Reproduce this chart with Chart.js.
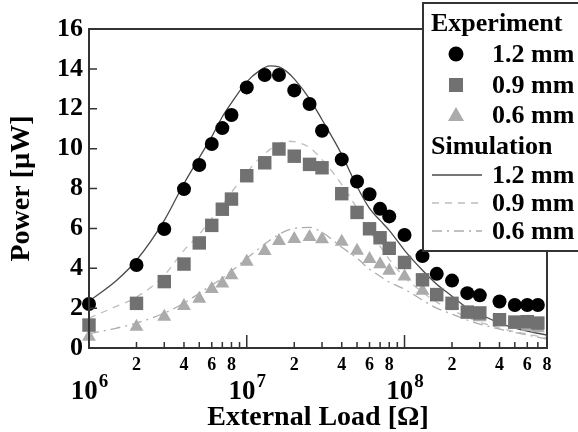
<!DOCTYPE html>
<html>
<head>
<meta charset="utf-8">
<script src="https://cdn.jsdelivr.net/npm/chart.js@4/dist/chart.umd.min.js"></script>
<style>
  body { margin: 0; background: #fff; }
  canvas { display: block; }
</style>
</head>
<body>
<canvas id="chart" width="578" height="432"></canvas>
<script>
// === Messdaten (Experiment) ===
const loadExp = [1e6, 2e6, 3e6, 4e6, 5e6, 6e6, 7e6, 8e6, 1e7, 1.3e7, 1.6e7, 2e7, 2.5e7, 3e7, 4e7,
  5e7, 6e7, 7e7, 8e7, 1e8, 1.3e8, 1.6e8, 2e8, 2.5e8, 3e8, 4e8, 5e8, 6e8, 7e8];
const exp12 = [2.21, 4.16, 5.97, 7.97, 9.18, 10.23, 11.03, 11.69, 13.07, 13.69, 13.69, 12.92, 12.24, 10.9, 9.46,
  8.35, 7.71, 6.98, 6.6, 5.67, 4.61, 3.72, 3.38, 2.75, 2.64, 2.33, 2.16, 2.16, 2.16];
const exp09 = [1.15, 2.24, 3.33, 4.21, 5.27, 6.15, 6.96, 7.47, 8.64, 9.29, 9.98, 9.62, 9.21, 9.04, 7.74,
  6.8, 5.98, 5.53, 5.0, 4.29, 3.42, 2.68, 2.24, 1.8, 1.76, 1.42, 1.3, 1.32, 1.25];
const exp06 = [0.56, 1.07, 1.57, 2.11, 2.47, 2.96, 3.24, 3.65, 4.33, 4.86, 5.37, 5.47, 5.57, 5.45, 5.33,
  4.88, 4.46, 4.2, 3.88, 3.58, 2.87, 2.54, 2.16, 1.74, 1.54, 1.32, 1.15, 1.07, 0.99];

// === Simulation ===
const loadSim = [1e6, 1.5e6, 2e6, 3e6, 4e6, 5e6, 6e6, 7e6, 8e6, 1e7, 1.2e7, 1.4e7, 1.6e7, 1.8e7, 2e7, 2.5e7,
  3e7, 4e7, 5e7, 6e7, 7e7, 8e7, 1e8, 1.3e8, 1.6e8, 2e8, 2.5e8, 3e8, 4e8, 5e8, 6e8, 8e8];
const sim12 = [2.35, 3.4, 4.4, 6.4, 8.25, 9.55, 10.6, 11.6, 12.3, 13.35, 13.9, 14.15, 14.1, 13.85, 13.5, 12.5,
  11.45, 9.7, 8.1, 7.0, 6.4, 5.9, 4.9, 3.9, 3.2, 2.6, 2.0, 1.7, 1.25, 1.0, 0.85, 0.65];
const sim09 = [1.5, 2.1, 2.55, 3.65, 4.9, 5.7, 6.5, 7.15, 7.8, 8.8, 9.5, 9.95, 10.25, 10.37, 10.35, 10.05,
  9.45, 8.2, 7.0, 5.9, 5.1, 4.45, 3.55, 2.8, 2.3, 1.9, 1.55, 1.3, 1.0, 0.82, 0.7, 0.5];
const sim06 = [0.72, 1.0, 1.25, 1.75, 2.25, 2.75, 3.15, 3.5, 3.85, 4.5, 5.0, 5.4, 5.7, 5.9, 6.0, 6.05,
  5.8, 5.05, 4.5, 3.95, 3.6, 3.3, 2.95, 2.4, 2.0, 1.7, 1.4, 1.2, 0.95, 0.78, 0.65, 0.45];

// === Achsen ===
const yTicks = [0, 2, 4, 6, 8, 10, 12, 14, 16];
const decades = [6, 7, 8];
const minorMults = [2, 3, 4, 5, 6, 7, 8, 9];
const labeledMults = [2, 4, 6, 8];
const xMin = 1e6, xMax = 8e8;

const serif = '"Liberation Serif", "Times New Roman", serif';
const axisColor = '#333';

const toXY = (xs, ys) => xs.map((x, i) => ({ x: x, y: ys[i] }));

// Rahmen, Ticks nach innen, x-Beschriftung mit Hochzahl, Legende
const framePlugin = {
  id: 'frame',
  afterDraw(chart) {
    const ctx = chart.ctx;
    const a = chart.chartArea;
    const xs = chart.scales.x, ys = chart.scales.y;
    ctx.save();
    ctx.strokeStyle = axisColor;
    ctx.lineWidth = 2;
    ctx.strokeRect(a.left, a.top, a.right - a.left, a.bottom - a.top);

    // y-Ticks
    ctx.lineWidth = 1.5;
    ctx.beginPath();
    yTicks.forEach(v => {
      const py = ys.getPixelForValue(v);
      ctx.moveTo(a.left, py); ctx.lineTo(a.left + 8, py);
    });
    ctx.stroke();

    // x-Ticks + Labels
    ctx.fillStyle = '#000';
    ctx.textAlign = 'center';
    ctx.textBaseline = 'alphabetic';
    ctx.beginPath();
    decades.forEach(d => {
      const base = Math.pow(10, d);
      const px = xs.getPixelForValue(base);
      ctx.moveTo(px, a.bottom); ctx.lineTo(px, a.bottom - 13);
      minorMults.forEach(m => {
        const v = m * base;
        if (v > xMax * 1.0001) return;
        const mx = xs.getPixelForValue(v);
        ctx.moveTo(mx, a.bottom); ctx.lineTo(mx, a.bottom - 6);
      });
    });
    ctx.stroke();

    ctx.font = 'bold 18px ' + serif;
    decades.forEach(d => {
      labeledMults.forEach(m => {
        const v = m * Math.pow(10, d);
        if (v > xMax * 1.0001) return;
        ctx.fillText(String(m), xs.getPixelForValue(v), 370);
      });
    });

    decades.forEach(d => {
      const px = xs.getPixelForValue(Math.pow(10, d));
      ctx.font = 'bold 27px ' + serif;
      const w1 = ctx.measureText('10').width;
      ctx.font = 'bold 19px ' + serif;
      const w2 = ctx.measureText(String(d)).width;
      const x0 = px - (w1 + w2) / 2;
      ctx.textAlign = 'left';
      ctx.font = 'bold 27px ' + serif;
      ctx.fillText('10', x0, 399);
      ctx.font = 'bold 19px ' + serif;
      ctx.fillText(String(d), x0 + w1 + 1, 387);
    });

    // Legende
    const lx = 423, ly = 3;
    ctx.fillStyle = '#fff';
    ctx.fillRect(lx, ly, 200, 248);
    ctx.strokeStyle = axisColor;
    ctx.lineWidth = 2;
    ctx.strokeRect(lx, ly, 200, 248);

    const rows = [23, 54, 85, 115, 146, 175, 203, 231];
    ctx.fillStyle = '#000';
    ctx.textAlign = 'left';
    ctx.textBaseline = 'middle';
    ctx.font = 'bold 26px ' + serif;
    ctx.fillText('Experiment', 431, rows[0] + 1);
    ctx.fillText('Simulation', 431, rows[4] + 1);

    const ds = chart.data.datasets;
    // Marker
    ctx.fillStyle = ds[3].backgroundColor;
    ctx.beginPath(); ctx.arc(456, rows[1], 7.5, 0, Math.PI * 2); ctx.fill();
    ctx.fillStyle = ds[4].backgroundColor;
    ctx.fillRect(449, rows[2] - 7, 14, 14);
    ctx.fillStyle = ds[5].backgroundColor;
    ctx.beginPath();
    ctx.moveTo(456, rows[3] - 8); ctx.lineTo(464, rows[3] + 6); ctx.lineTo(448, rows[3] + 6);
    ctx.closePath(); ctx.fill();

    // Linienmuster
    [0, 1, 2].forEach(i => {
      const d = ds[i];
      ctx.strokeStyle = d.borderColor;
      ctx.lineWidth = d.borderWidth;
      ctx.setLineDash(d.borderDash || []);
      ctx.beginPath();
      ctx.moveTo(432, rows[5 + i]); ctx.lineTo(482, rows[5 + i]);
      ctx.stroke();
    });
    ctx.setLineDash([]);

    ctx.fillStyle = '#000';
    ctx.font = 'bold 26px ' + serif;
    ['1.2 mm', '0.9 mm', '0.6 mm'].forEach((t, i) => {
      ctx.fillText(t, 492, rows[1 + i] + 1);
      ctx.fillText(t, 492, rows[5 + i] + 1);
    });
    ctx.restore();
  }
};

new Chart(document.getElementById('chart'), {
  type: 'scatter',
  data: {
    datasets: [
      { label: 'Sim 1.2 mm', type: 'line', data: toXY(loadSim, sim12), borderColor: '#4a4a4a',
        borderWidth: 1.3, pointRadius: 0, cubicInterpolationMode: 'monotone', fill: false, order: 3 },
      { label: 'Sim 0.9 mm', type: 'line', data: toXY(loadSim, sim09), borderColor: '#bdbdbd',
        borderWidth: 1.3, borderDash: [7, 6], pointRadius: 0, cubicInterpolationMode: 'monotone', fill: false, order: 3 },
      { label: 'Sim 0.6 mm', type: 'line', data: toXY(loadSim, sim06), borderColor: '#acacac',
        borderWidth: 1.3, borderDash: [10, 5, 2, 5], pointRadius: 0, cubicInterpolationMode: 'monotone', fill: false, order: 3 },
      { label: 'Exp 1.2 mm', data: toXY(loadExp, exp12), backgroundColor: '#000', borderWidth: 0,
        pointStyle: 'circle', pointRadius: 7, clip: false, order: 1 },
      { label: 'Exp 0.9 mm', data: toXY(loadExp, exp09), backgroundColor: '#717171', borderWidth: 0,
        pointStyle: 'rect', pointRadius: 9.5, clip: false, order: 2 },
      { label: 'Exp 0.6 mm', data: toXY(loadExp, exp06), backgroundColor: '#ababab', borderWidth: 0,
        pointStyle: 'triangle', pointRadius: 8, clip: false, order: 2 }
    ]
  },
  options: {
    responsive: false,
    animation: false,
    devicePixelRatio: 1,
    layout: { padding: { left: 0, right: 31, top: 29, bottom: 0 } },
    plugins: { legend: { display: false }, tooltip: { enabled: false } },
    scales: {
      x: {
        type: 'logarithmic', min: xMin, max: xMax,
        grid: { display: false, drawTicks: false },
        border: { display: false },
        ticks: { display: false },
        title: { display: true, text: 'External Load [Ω]', color: '#000',
          font: { family: serif, size: 28, weight: 'bold', lineHeight: 1 }, padding: 0 },
        afterFit: s => { s.height = 84; }
      },
      y: {
        min: 0, max: 16,
        grid: { display: false, drawTicks: false },
        border: { display: false },
        ticks: { stepSize: 2, color: '#000', padding: 6,
          font: { family: serif, size: 26, weight: 'bold' } },
        title: { display: true, text: 'Power [µW]', color: '#000',
          font: { family: serif, size: 28, weight: 'bold', lineHeight: 1 }, padding: { top: 8, bottom: 0 } },
        afterFit: s => { s.width = 89; }
      }
    }
  },
  plugins: [framePlugin]
});
</script>
</body>
</html>
